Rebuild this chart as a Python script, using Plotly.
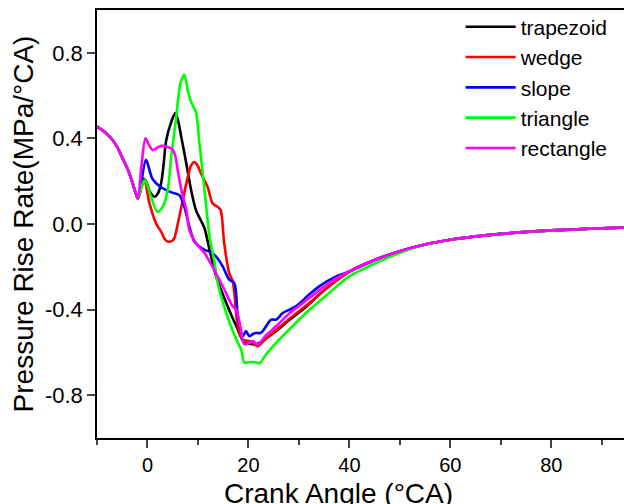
import plotly.graph_objects as go

# shared early part (all configurations identical before ignition)
pre_x = [-10, -9, -8, -7, -6, -5, -4, -3, -2.4, -1.9]
pre_y = [0.455, 0.44, 0.42, 0.395, 0.36, 0.31, 0.26, 0.195, 0.15, 0.118]

# shared late part
mid_x = [40, 45, 50]
mid_y = [-0.222, -0.168, -0.127]
tail_x = [55, 60, 65, 70, 75, 80, 85, 90, 95, 100]
tail_y = [-0.096, -0.074, -0.058, -0.046, -0.037, -0.030, -0.025, -0.020, -0.016, -0.013]

trap_x = [-1.2, -0.9, -0.3, 0.5, 1.4, 2.0, 2.7, 3.2, 3.7, 4.7, 5.5, 6.1, 6.7, 7.7, 8.65, 9.6, 10.5, 11.3,
          12.3, 13.6, 15.6, 17.6, 19.2, 20.5, 21.5, 23.5, 25.5, 28, 31.5, 35, 38]
trap_y = [0.18, 0.212, 0.2, 0.15, 0.127, 0.14, 0.19, 0.28, 0.39, 0.476, 0.518, 0.48, 0.406, 0.282, 0.158, 0.065,
          0.02, -0.02, -0.121, -0.245, -0.369, -0.478, -0.555, -0.56, -0.563, -0.535, -0.5, -0.45, -0.385,
          -0.31, -0.255]

wedge_x = [-1.2, -0.6, 0.4, 1.7, 2.7, 3.4, 4.0, 4.8, 5.3, 6.3, 7.7, 8.65, 9.3, 10.0, 10.6, 11.9, 12.9, 13.9,
           14.5, 15.2, 16.2, 16.9, 17.9, 18.9, 20.2, 20.9, 21.8, 23.5, 25.5, 28, 31.5, 35, 38]
wedge_y = [0.17, 0.205, 0.096, 0.003, -0.036, -0.07, -0.082, -0.08, -0.067, 0.034, 0.19, 0.274, 0.29, 0.27,
           0.236, 0.174, 0.096, 0.08, 0.065, -0.09, -0.23, -0.268, -0.478, -0.54, -0.547, -0.555, -0.571,
           -0.535, -0.495, -0.445, -0.38, -0.31, -0.255]

slope_x = [-1.2, -0.3, 1.0, 2.5, 4.5, 6.3, 7.3, 8.3, 9.3, 11.3, 12.3, 13.6, 14.9, 16.2, 17.2, 17.9, 18.9, 19.5,
           20.2, 21.2, 22.5, 24.5, 25.5, 26.8, 29.4, 32, 34.1, 37.4]
slope_y = [0.2, 0.3, 0.21, 0.175, 0.15, 0.135, 0.08, -0.012, -0.082, -0.121, -0.129, -0.152, -0.198, -0.26,
           -0.276, -0.431, -0.524, -0.5, -0.524, -0.51, -0.508, -0.447, -0.447, -0.416, -0.385, -0.33, -0.29,
           -0.245]

tri_x = [-1.2, -0.6, 0.0, 0.7, 2.0, 3.0, 4.0, 4.7, 5.7, 6.5, 7.3, 8.0, 8.65, 9.6, 10.3, 11.3, 12.3, 13.3,
         13.9, 15.6, 17.6, 18.55, 19.2, 20.2, 21.2, 22.2, 23.5, 25.5, 28.1, 31.4, 36.0, 40, 45, 50]
tri_y = [0.17, 0.205, 0.18, 0.127, 0.057, 0.08, 0.158, 0.313, 0.5, 0.654, 0.698, 0.623, 0.57, 0.522, 0.375,
         0.158, -0.059, -0.183, -0.276, -0.416, -0.54, -0.587, -0.648, -0.645, -0.645, -0.65, -0.609, -0.555,
         -0.493, -0.416, -0.322, -0.245, -0.185, -0.135]

rect_x = [-1.2, -0.4, 0.3, 1.05, 1.8, 2.8, 4.0, 4.9, 5.5, 6.0, 6.8, 7.7, 8.3, 9.6, 11.3, 12.9, 14.9, 16.9,
          17.6, 18.4, 19.2, 20.2, 20.9, 21.8, 23.5, 25.5, 28, 30.8, 34, 37]
rect_y = [0.27, 0.4, 0.37, 0.345, 0.355, 0.365, 0.36, 0.35, 0.32, 0.25, 0.15, 0.065, -0.028, -0.09, -0.136,
          -0.2, -0.29, -0.385, -0.4, -0.48, -0.563, -0.555, -0.547, -0.563, -0.52, -0.478, -0.42, -0.369,
          -0.31, -0.26]

names = ["trapezoid", "wedge", "slope", "triangle", "rectangle"]
colors = ["#000000", "#FF0000", "#0000FF", "#00FF00", "#FF00FF"]

y_tickvals = [-0.8, -0.4, 0.0, 0.4, 0.8]
y_ticktext = ["-0.8", "-0.4", "0.0", "0.4", "0.8"]
x_tickvals = [0, 20, 40, 60, 80]
x_title = "Crank Angle (°CA)"
y_title = "Pressure Rise Rate(MPa/°CA)"

series = [
    (pre_x + trap_x + mid_x + tail_x, pre_y + trap_y + mid_y + tail_y),
    (pre_x + wedge_x + mid_x + tail_x, pre_y + wedge_y + mid_y + tail_y),
    (pre_x + slope_x + mid_x + tail_x, pre_y + slope_y + mid_y + tail_y),
    (pre_x + tri_x + tail_x, pre_y + tri_y + tail_y),
    (pre_x + rect_x + mid_x + tail_x, pre_y + rect_y + mid_y + tail_y),
]

FONT = "Liberation Sans, Arial, sans-serif"
fig = go.Figure()
for (xs, ys), n, c in zip(series, names, colors):
    fig.add_trace(go.Scatter(x=xs, y=ys, mode="lines", name=n,
                             line=dict(color=c, width=2.6, shape="spline", smoothing=0.8)))

fig.update_layout(
    width=624, height=504,
    margin=dict(l=97, r=0, t=10, b=66, autoexpand=False),
    paper_bgcolor="white", plot_bgcolor="white",
    font=dict(family=FONT, color="black"),
    showlegend=True,
    legend=dict(x=0.69, y=1.008, xanchor="left", yanchor="top", bgcolor="rgba(0,0,0,0)",
                font=dict(size=21, family=FONT), tracegroupgap=0, itemwidth=50),
    annotations=[dict(text=x_title, xref="paper", yref="paper", x=0.459, y=-0.088,
                      xanchor="center", yanchor="top", showarrow=False, font=dict(size=28))],
)
fig.update_xaxes(
    range=[-10, 94.4], tickvals=x_tickvals, ticks="outside", ticklen=8, tickwidth=1.5,
    showline=True, linecolor="black", linewidth=1.5, mirror=True, showgrid=False, zeroline=False,
    automargin=False,
    tickfont=dict(size=20), minor=dict(dtick=10, tick0=0, ticks="outside", ticklen=5, tickwidth=1.5,
                                      showgrid=False),
)
fig.update_yaxes(
    range=[-1, 1], tickvals=y_tickvals, ticktext=y_ticktext, ticks="outside", ticklen=8, tickwidth=1.5,
    showline=True, linecolor="black", linewidth=1.5, showgrid=False, zeroline=False, automargin=False,
    tickfont=dict(size=22),
    title=dict(text=y_title, font=dict(size=28), standoff=3),
)
fig.write_html("out.html", config={"displayModeBar": False},
               post_script="document.body.style.margin='0';document.body.style.overflow='hidden';")
